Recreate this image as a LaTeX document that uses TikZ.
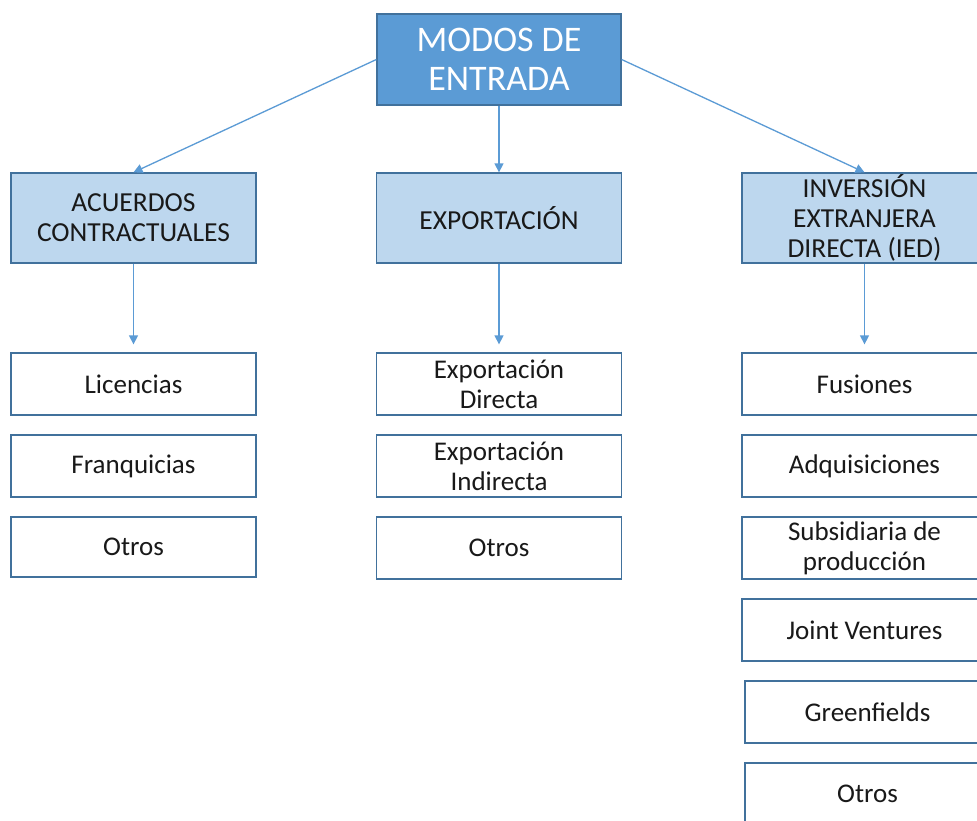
\documentclass[tikz,border=0pt]{standalone}
\usepackage{fontspec}
\setmainfont{Carlito}
\usetikzlibrary{arrows.meta}
\definecolor{azulfuerte}{HTML}{5B9BD5}
\definecolor{azulborde}{HTML}{41719C}
\definecolor{azulclaro}{HTML}{BDD7EE}
\begin{document}
\begin{tikzpicture}[x=1pt, y=-1pt, line join=miter,
		>={Triangle[width=9pt,length=9pt]}]
			\tikzset{raiz/.style={draw=azulborde, fill=azulfuerte, line width=1.3pt, text=white, align=center,
					minimum width=244pt, minimum height=91pt, inner sep=0pt, font=\fontsize{36}{39}\selectfont},
				categoria/.style={draw=azulborde, fill=azulclaro, line width=1.3pt, text=black!90, align=center,
					minimum width=245pt, minimum height=90pt, inner sep=0pt, font=\fontsize{27.5}{30}\selectfont},
				opcion/.style={draw=azulborde, fill=white, line width=1.3pt, text=black!90, align=center,
					minimum width=245pt, minimum height=62pt, inner sep=0pt, font=\fontsize{27}{30}\selectfont},
				flecha/.style={->, draw=azulfuerte, line width=1.3pt}}
			\clip (0,0) rectangle (977,820);
			\fill[white] (0,0) rectangle (977,820);
			% niveles superiores
			\node[raiz] (modos) at (499,59.5) {MODOS DE\\ENTRADA};
			\node[categoria] (acuerdos) at (133.5,218) {ACUERDOS\\CONTRACTUALES};
			\node[categoria] (exportacion) at (499,218) {EXPORTACIÓN};
			\node[categoria] (ied) at (864.5,218) {INVERSIÓN\\EXTRANJERA\\DIRECTA (IED)};
			% opciones de cada modo
			\node[opcion] (licencias) at (133.5,384) {Licencias};
			\node[opcion] (franquicias) at (133.5,466) {Franquicias};
			\node[opcion, minimum height=60pt] (otrosA) at (133.5,547) {Otros};
			\node[opcion] (directa) at (499,384) {Exportación\\Directa};
			\node[opcion] (indirecta) at (499,466) {Exportación\\Indirecta};
			\node[opcion] (otrosE) at (499,548) {Otros};
			\node[opcion] (fusiones) at (864.5,384) {Fusiones};
			\node[opcion] (adquisiciones) at (864.5,466) {Adquisiciones};
			\node[opcion] (subsidiaria) at (864.5,548) {Subsidiaria de\\producción};
			\node[opcion] (joint) at (864.5,630) {Joint Ventures};
			\node[opcion] (greenfields) at (867.5,712) {Greenfields};
			\node[opcion] (otrosI) at (867.5,794) {Otros};
			\draw[flecha] (modos.west) -- (acuerdos.north);
			\draw[flecha] (modos.south) -- (exportacion.north);
			\draw[flecha] (modos.east) -- (ied.north);
			\draw[flecha, shorten >=8pt] (acuerdos.south) -- (licencias.north);
			\draw[flecha, shorten >=8pt] (exportacion.south) -- (directa.north);
			\draw[flecha, shorten >=8pt] (ied.south) -- (fusiones.north);
		\end{tikzpicture}
\end{document}
